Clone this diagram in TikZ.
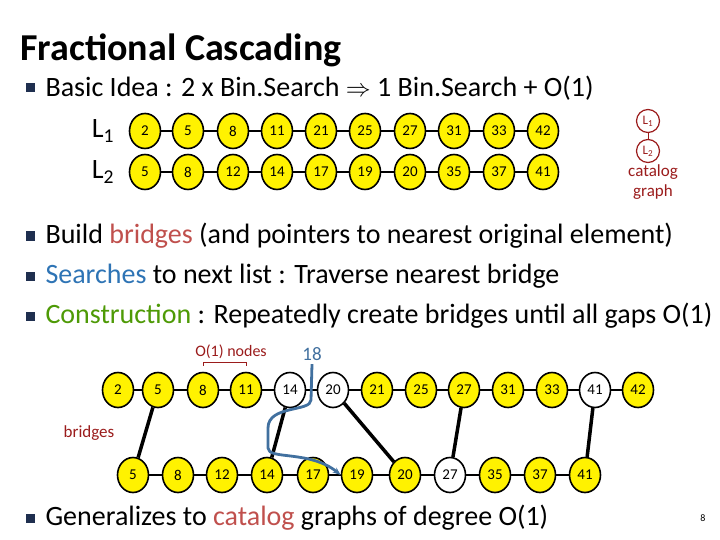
\documentclass[tikz,border=0pt]{standalone}
\usepackage{fontspec}
\setmainfont{Carlito}
\usetikzlibrary{arrows.meta,shapes.geometric,calc}
\definecolor{brd}{HTML}{C0504D}
\definecolor{dred}{HTML}{9B1C1C}
\definecolor{sblue}{HTML}{2E74B5}
\definecolor{sgreen}{HTML}{4E9A06}
\definecolor{ablue}{HTML}{41709F}
\definecolor{bul}{HTML}{1F2F4F}
\begin{document}
\begin{tikzpicture}[x=1pt,y=-1pt,
 yn/.style={ellipse,draw,line width=1.6pt,fill=yellow,minimum width=31pt,minimum height=35pt,inner sep=0pt,font=\fontsize{15}{15}\selectfont},
 wn/.style={yn,fill=white},
 ln/.style={line width=1.6pt},
 br/.style={line width=3.5pt},
 bt/.style={font=\fontsize{28}{32}\selectfont,anchor=west},
 bx/.style={fill=bul,minimum size=9pt,inner sep=0pt}]
\useasboundingbox[fill=white] (0,0) rectangle (720,540);
\node[anchor=west,font=\bfseries\fontsize{38}{42}\selectfont] (title) at (17,50) {Fractional Cascading};
\node[bx] (b1) at (30,88) {}; \node[bt] (t1) at (42,88) {Basic Idea : 2 x Bin.Search $\Rightarrow$ 1 Bin.Search + O(1)};
\node[bx] (b2) at (30,236) {}; \node[bt] (t2) at (42,236) {Build \textcolor{brd}{bridges} (and pointers to nearest original element)};
\node[bx] (b3) at (30,276) {}; \node[bt] (t3) at (42,276) {\textcolor{sblue}{Searches} to next list : Traverse nearest bridge};
\node[bx] (b4) at (30,316) {}; \node[bt] (t4) at (42,316) {\textcolor{sgreen}{Construction} : Repeatedly create bridges until all gaps O(1)};
\node[bx] (b5) at (30,518) {}; \node[bt] (t5) at (42,518) {Generalizes to \textcolor{brd}{catalog} graphs of degree O(1)};
\node[font=\fontsize{10}{10}\selectfont] (pg) at (703,518) {8};
\node[font=\fontsize{28}{28}\selectfont] (L1) at (103,131) {L\textsubscript{1}};
\node[font=\fontsize{28}{28}\selectfont] (L2) at (103,172) {L\textsubscript{2}};
% top lists
\foreach \v/\x [count=\i] in {2/145,5/188,8/233,11/277,21/321,25/365,27/410,31/454,33/499,42/543}
  \node[yn] (a\i) at (\x,131) {\v};
\foreach \v/\x [count=\i] in {5/145,8/188,12/233,14/277,17/321,19/365,20/410,35/454,37/499,41/543}
  \node[yn] (b\i) at (\x,172) {\v};
\foreach \i [evaluate=\i as \j using int(\i+1)] in {1,...,9}{
  \draw[ln] (a\i) -- (a\j); \draw[ln] (b\i) -- (b\j);}
% catalog graph
\node[circle,draw=dred,line width=1.2pt,minimum size=23pt,inner sep=0pt,text=dred,font=\fontsize{13}{13}\selectfont] (c1) at (648,121) {L\textsubscript{1}};
\node[circle,draw=dred,line width=1.2pt,minimum size=23pt,inner sep=0pt,text=dred,font=\fontsize{13}{13}\selectfont] (c2) at (648,151) {L\textsubscript{2}};
\draw[dred] (c1) -- (c2);
\node[text=dred,font=\fontsize{17}{20}\selectfont,align=center] (cg) at (653,182) {catalog\\graph};
% bottom structure
\foreach \v/\x/\s [count=\i] in {2/118/yn,5/158/yn,8/203/yn,11/246/yn,14/290/wn,20/333/wn,21/377/yn,25/421/yn,27/464/yn,31/508/yn,33/552/yn,41/595/wn,42/638/yn}
  \node[\s] (u\i) at (\x,390) {\v};
\foreach \v/\x/\s [count=\i] in {5/133/yn,8/178/yn,12/222/yn,14/267/yn,17/313/yn,19/357/yn,20/405/yn,27/450/wn,35/495/yn,37/540/yn,41/585/yn}
  \node[\s] (d\i) at (\x,475) {\v};
\foreach \i [evaluate=\i as \j using int(\i+1)] in {1,...,12} \draw[ln] (u\i) -- (u\j);
\foreach \i [evaluate=\i as \j using int(\i+1)] in {1,...,10} \draw[ln] (d\i) -- (d\j);
\draw[br] (u2) -- (d1);
\draw[br] (u5) -- (d4);
\draw[br] (u6) -- (d7);
\draw[br] (u9) -- (d8);
\draw[br] (u12) -- (d11);
\node[text=dred,font=\fontsize{17}{17}\selectfont] (brl) at (89,433) {bridges};
\node[text=dred,font=\fontsize{16}{16}\selectfont] (on) at (231,352) {O(1) nodes};
\draw[dred] ($(u3.north)+(0,-6)$) -- ++(0,-4) -- ($(u4.north)+(0,-10)$) -- ++(0,4);
\node[text=ablue,font=\fontsize{19}{19}\selectfont] (n18) at (312,354) {18};
\draw[ablue,line width=2.8pt,-{Stealth[length=8pt]}] (n18.south) -- (311,400) .. controls (311,412) and (268,405) .. (268,428) -- (268,448) .. controls (268,460) and (310,450) .. (d6.west);
\end{tikzpicture}
\end{document}
